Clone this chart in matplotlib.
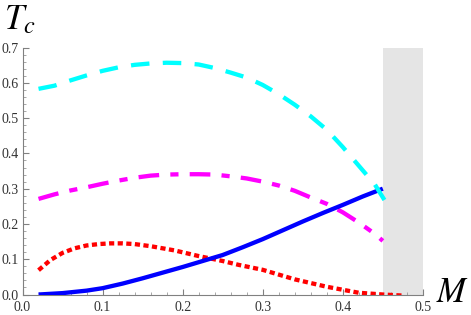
import matplotlib
matplotlib.use("Agg")
import matplotlib.pyplot as plt
from matplotlib.ticker import MultipleLocator

# values
m_cyan = [0.02, 0.04, 0.06, 0.08, 0.10, 0.12, 0.14, 0.16, 0.18, 0.20, 0.22,
          0.24, 0.26, 0.28, 0.30, 0.32, 0.34, 0.36, 0.38, 0.40, 0.42, 0.44, 0.452]
t_cyan = [0.583, 0.592, 0.607, 0.621, 0.634, 0.644, 0.651, 0.655, 0.657, 0.656, 0.652,
          0.642, 0.629, 0.615, 0.594, 0.568, 0.538, 0.505, 0.467, 0.418, 0.365, 0.312, 0.268]

m_magenta = [0.02, 0.04, 0.06, 0.08, 0.10, 0.12, 0.14, 0.16, 0.18, 0.20, 0.22,
             0.24, 0.26, 0.28, 0.30, 0.32, 0.34, 0.36, 0.38, 0.40, 0.42, 0.44, 0.45]
t_magenta = [0.271, 0.284, 0.295, 0.304, 0.314, 0.323, 0.331, 0.337, 0.340, 0.341, 0.341,
             0.340, 0.335, 0.329, 0.320, 0.309, 0.294, 0.275, 0.257, 0.233, 0.204, 0.172, 0.152]

m_red = [0.02, 0.035, 0.05, 0.065, 0.08, 0.095, 0.11, 0.125, 0.14, 0.16, 0.19, 0.22,
         0.25, 0.27, 0.30, 0.34, 0.38, 0.42, 0.45, 0.475]
t_red = [0.069, 0.098, 0.118, 0.131, 0.139, 0.143, 0.145, 0.145, 0.143, 0.137, 0.125, 0.109,
         0.095, 0.084, 0.070, 0.043, 0.022, 0.005, 0.0, -0.003]

m_blue = [0.02, 0.05, 0.08, 0.10, 0.125, 0.15, 0.175, 0.20, 0.225, 0.25, 0.275,
          0.30, 0.325, 0.35, 0.375, 0.40, 0.425, 0.45]
t_blue = [0.0, 0.004, 0.011, 0.018, 0.031, 0.046, 0.062, 0.078, 0.095, 0.112, 0.134,
          0.157, 0.182, 0.207, 0.231, 0.254, 0.278, 0.300]

shade_range = (0.45, 0.5)
x_ticks = [0.0, 0.1, 0.2, 0.3, 0.4, 0.5]
y_ticks = [0.0, 0.1, 0.2, 0.3, 0.4, 0.5, 0.6, 0.7]

plt.rcParams['font.family'] = ['Liberation Serif', 'DejaVu Serif']
plt.rcParams['mathtext.fontset'] = 'stix'

fig = plt.figure(figsize=(4.71, 3.15), dpi=100)
ax = fig.add_axes([0.0478, 0.065, 0.850, 0.784])

ax.axvspan(*shade_range, color='#e5e5e5', lw=0, zorder=0)

lw = 3.1
ax.plot(m_red, t_red, color='#ff0000', lw=lw, dashes=(1.2, 0.8), zorder=2)
ax.plot(m_magenta, t_magenta, color='#ff00ff', lw=lw,
        dashes=(4.8, 2.6, 1.9, 2.6), zorder=3)
ax.plot(m_blue, t_blue, color='#0000ff', lw=lw, solid_capstyle='butt', zorder=4)
ax.plot(m_cyan, t_cyan, color='#00ffff', lw=lw, dashes=(4.3, 3.1), zorder=5)

ax.set_xlim(0, 0.5)
ax.set_ylim(0, 0.7)

for side in ('top', 'right'):
    ax.spines[side].set_visible(False)
for side in ('left', 'bottom'):
    ax.spines[side].set_color('#808080')
    ax.spines[side].set_linewidth(0.8)

ax.set_xticks(x_ticks)
ax.set_yticks(y_ticks)
ax.set_xticklabels([f"{v:.1f}" for v in x_ticks])
ax.set_yticklabels([f"{v:.1f}" for v in y_ticks])
ax.xaxis.set_minor_locator(MultipleLocator(0.02))
ax.yaxis.set_minor_locator(MultipleLocator(0.02))
ax.tick_params(which='major', direction='in', length=4, width=0.8,
               color='#808080', labelsize=10, labelcolor='#333333')
ax.tick_params(which='minor', direction='in', length=2.2, width=0.6, color='#999999')
ax.tick_params(axis='x', which='major', pad=5)
ax.tick_params(axis='y', which='major', pad=3)

fig.text(0.008, 0.908, r'$T_c$', fontsize=25, va='baseline', ha='left')
fig.text(0.926, 0.041, r'$M$', fontsize=25, va='baseline', ha='left')

fig.savefig('out.png', dpi=100)
